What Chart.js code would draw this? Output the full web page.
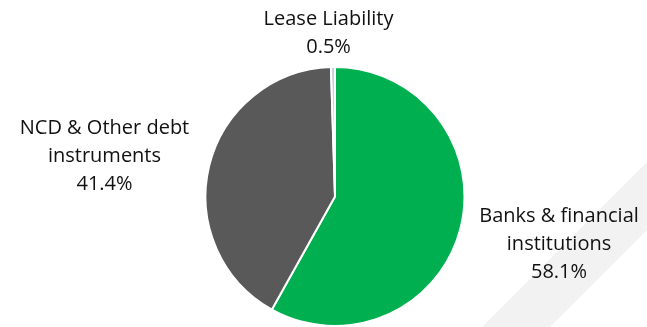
<!DOCTYPE html>
<html>
<head>
<meta charset="utf-8">
<script src="https://cdn.jsdelivr.net/npm/chart.js@4/dist/chart.umd.min.js"></script>
<style>
  html, body { margin: 0; padding: 0; background: #ffffff; }
  #wrap { width: 647px; height: 327px; position: relative; }
</style>
</head>
<body>
<div id="wrap"><canvas id="c" width="647" height="327"></canvas></div>
<script>
// Borrowing mix
const categories = ['Banks & financial institutions', 'NCD & Other debt instruments', 'Lease Liability'];
const labelLines = [['Banks & financial', 'institutions'], ['NCD & Other debt', 'instruments'], ['Lease Liability']];
const shares = [58.1, 41.4, 0.5];
const sliceColors = ['#00b050', '#595959', '#c3cde6'];
// label anchor relative to the pie centre, in units of the radius
const labelOffsets = [[1.73, 0.37], [-1.78, -0.31], [-0.05, -1.26]];

const FONT = '20px "Open Sans", Lato, "Liberation Sans", sans-serif';
const LINE_H = 28;

// faint diagonal band behind the chart
const bandPlugin = {
  id: 'band',
  beforeDraw(chart) {
    const { ctx, width, height } = chart;
    ctx.save();
    ctx.fillStyle = '#f2f2f2';
    ctx.beginPath();
    ctx.moveTo(482, height);
    ctx.lineTo(550, height);
    ctx.lineTo(width, height - (width - 550));
    ctx.lineTo(width, height - (width - 482));
    ctx.closePath();
    ctx.fill();
    ctx.restore();
  }
};

// category name + percentage beside each slice
const sliceLabels = {
  id: 'sliceLabels',
  afterDatasetsDraw(chart) {
    const { ctx } = chart;
    const meta = chart.getDatasetMeta(0);
    ctx.save();
    ctx.font = FONT;
    ctx.fillStyle = '#111111';
    ctx.textAlign = 'center';
    ctx.textBaseline = 'middle';
    meta.data.forEach((arc, i) => {
      const r = arc.outerRadius;
      const cx = arc.x + labelOffsets[i][0] * r;
      const cy = arc.y + labelOffsets[i][1] * r;
      const lines = labelLines[i].concat([shares[i].toFixed(1) + '%']);
      const top = cy - (lines.length - 1) * LINE_H / 2;
      lines.forEach((t, k) => ctx.fillText(t, cx, top + k * LINE_H));
    });
    ctx.restore();
  }
};

new Chart(document.getElementById('c'), {
  type: 'pie',
  data: {
    labels: categories,
    datasets: [{
      data: shares,
      backgroundColor: sliceColors,
      borderColor: '#ffffff',
      borderWidth: 2
    }]
  },
  options: {
    responsive: false,
    animation: false,
    layout: { padding: { top: 66, bottom: 0, left: 70, right: 47 } },
    plugins: {
      legend: { display: false },
      tooltip: { enabled: false }
    }
  },
  plugins: [bandPlugin, sliceLabels]
});
</script>
</body>
</html>
